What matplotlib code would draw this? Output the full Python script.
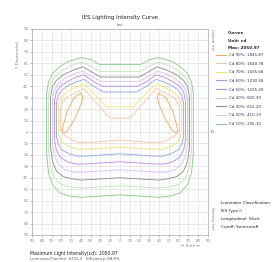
import numpy as np
import matplotlib
matplotlib.use('Agg')
import matplotlib.pyplot as plt
from matplotlib.lines import Line2D

# contour outlines, outer (10%) to inner (90%), in degrees
c10_x = [-75, -73, -69, -62, -52, -39, -29, -21, 21, 29, 39, 52, 62, 69, 73, 75,
         75, 73, 69, 62, 52, 40, 0, -40, -52, -62, -69, -73, -75, -75]
c10_y = [34, 44, 51, 57, 62, 65, 63, 59, 59, 63, 65, 62, 57, 51, 44, 34,
         -20, -36, -46, -53, -56, -57, -55, -57, -56, -53, -46, -36, -20, 34]
c20_x = [-73, -71, -67, -60, -50, -39, -29, -21, 21, 29, 39, 50, 60, 67, 71, 73,
         73, 71, 67, 60, 50, 40, 0, -40, -50, -60, -67, -71, -73, -73]
c20_y = [33, 42, 48, 53, 58, 61, 57, 53, 53, 57, 61, 58, 53, 48, 42, 33,
         -17, -31, -40, -46, -48, -49, -47, -49, -48, -46, -40, -31, -17, 33]
c30_x = [-71, -69, -65, -58, -48, -38, -28, -20, 20, 28, 38, 48, 58, 65, 69, 71,
         71, 69, 65, 58, 48, 40, 0, -40, -48, -58, -65, -69, -71, -71]
c30_y = [31, 40, 45, 50, 54, 57, 52, 48, 48, 52, 57, 54, 50, 45, 40, 31,
         -14, -26, -34, -39, -41, -42, -40, -42, -41, -39, -34, -26, -14, 31]
c40_x = [-69, -67, -63, -56, -47, -38, -28, -19, 19, 28, 38, 47, 56, 63, 67, 69,
         69, 67, 63, 56, 47, 38, 0, -38, -47, -56, -63, -67, -69, -69]
c40_y = [29, 37, 42, 47, 51, 53, 48, 44, 44, 48, 53, 51, 47, 42, 37, 29,
         -10, -21, -28, -33, -35, -35, -33, -35, -35, -33, -28, -21, -10, 29]
c50_x = [-67, -65, -61, -54, -45, -37, -27, -18, 18, 27, 37, 45, 54, 61, 65, 67,
         67, 65, 61, 54, 45, 36, 0, -36, -45, -54, -61, -65, -67, -67]
c50_y = [27, 35, 40, 44, 48, 50, 44, 40, 40, 44, 50, 48, 44, 40, 35, 27,
         -7, -16, -22, -26, -28, -28, -26, -28, -28, -26, -22, -16, -7, 27]
c60_x = [-65, -63, -59, -52, -44, -37, -27, -17, 17, 27, 37, 44, 52, 59, 63, 65,
         65, 63, 59, 52, 44, 34, 0, -34, -44, -52, -59, -63, -65, -65]
c60_y = [25, 32, 37, 41, 44, 46, 40, 35, 35, 40, 46, 44, 41, 37, 32, 25,
         -4, -11, -16, -19, -21, -21, -19, -21, -21, -19, -16, -11, -4, 25]
c70_x = [-63, -61, -57, -51, -43, -37, -28, -14, 14, 28, 37, 43, 51, 57, 61, 63,
         63, 61, 57, 51, 43, 30, 0, -30, -43, -51, -57, -61, -63, -63]
c70_y = [23, 29, 33, 37, 40, 42, 35, 22, 22, 35, 42, 40, 37, 33, 29, 23,
         -1, -6, -10, -13, -15, -15, -13, -15, -15, -13, -10, -6, -1, 23]
c80_x = [-61, -59, -55, -49, -42, -37, -29, -10, 10, 29, 37, 42, 49, 55, 59, 61,
         61, 59, 55, 49, 42, 28, 0, -28, -42, -49, -55, -59, -61, -61]
c80_y = [20, 26, 30, 33, 36, 38, 30, 12, 12, 30, 38, 36, 33, 30, 26, 20,
         2, -1, -4, -7, -9, -9, -7, -9, -9, -7, -4, -1, 2, 20]
# 90% is two separate lobes
c90l_x = [-40, -38, -40, -46, -53, -57, -59, -58, -54, -47, -40]
c90l_y = [34, 30, 24, 12, 2, -1, 1, 6, 18, 30, 34]
c90r_x = [40, 38, 40, 46, 53, 57, 59, 58, 54, 47, 40]
c90r_y = [34, 30, 24, 12, 2, -1, 1, 6, 18, 30, 34]

percent = ['90%', '80%', '70%', '60%', '50%', '40%', '30%', '20%', '10%']
cd_vals = ['1845.87', '1640.78', '1435.68', '1230.58', '1025.49', '820.39', '615.29', '410.19', '205.10']
colors = ['#f0a860', '#f7c4a8', '#eee870', '#8fa6e8', '#b98ae6', '#d2c0f2', '#8c8c8c', '#bfe6b4', '#86cc86']
ticks = list(range(-90, 91, 10))
tick_labels = [str(abs(t)) for t in ticks]

fig = plt.figure(figsize=(2.73, 2.62), dpi=100)
ax = fig.add_axes([32 / 273, 1 - 235 / 262, 176 / 273, 206 / 262])

outlines = [(c90l_x, c90l_y), (c80_x, c80_y), (c70_x, c70_y), (c60_x, c60_y), (c50_x, c50_y),
            (c40_x, c40_y), (c30_x, c30_y), (c20_x, c20_y), (c10_x, c10_y)]
for i, (xs, ys) in enumerate(outlines):
    ax.plot(xs, ys, color=colors[i], lw=0.6)
ax.plot(c90r_x, c90r_y, color=colors[0], lw=0.6)

ax.set_xlim(-90, 90)
ax.set_ylim(-90, 90)
ax.set_xticks(ticks)
ax.set_yticks(ticks)
ax.set_xticklabels(tick_labels)
ax.set_yticklabels(tick_labels)
ax.set_xticks(np.arange(-85, 90, 10), minor=True)
ax.set_yticks(np.arange(-85, 90, 10), minor=True)
ax.grid(True, which='major', color='#d8d8d8', lw=0.4)
ax.grid(True, which='minor', color='#eeeeee', lw=0.3)
ax.tick_params(labelsize=2.8, colors='#888888', length=1.2, width=0.4, pad=1.5)
ax.tick_params(which='minor', length=0)
for s in ax.spines.values():
    s.set_color('#aaaaaa')
    s.set_linewidth(0.5)

fig.text(120 / 273, 1 - 17 / 262, 'IES Lighting Intensity Curve', ha='center', va='center',
         fontsize=4, color='#222222')
fig.text(120 / 273, 1 - 25 / 262, '(m)', ha='center', va='center', fontsize=2.8, color='#555555')
fig.text(18 / 273, 1 - 54 / 262, 'Y Distance(m)', rotation=90, ha='center', va='center',
         fontsize=2.8, color='#777777')
fig.text(212 / 273, 1 - 40 / 262, 'Lateral (m)', rotation=270, ha='center', va='center',
         fontsize=2.8, color='#777777')
fig.text(212 / 273, 1 - 218 / 262, 'Vertical (m)', rotation=270, ha='center', va='center',
         fontsize=2.8, color='#777777')
fig.text(212 / 273, 1 - 132 / 262, '0', ha='center', va='center', fontsize=3.2, color='#444444')
fig.text(190 / 273, 1 - 246 / 262, '\u2190 H(m) \u2192', ha='center', va='center',
         fontsize=2.8, color='#777777')

fig.text(30 / 273, 1 - 253 / 262, 'Maximum Light Intensity(cd): 2050.97', ha='left', va='center',
         fontsize=3.3, color='#222222')
fig.text(30 / 273, 1 - 259 / 262, 'Luminous Flux(lm): 6215.3   Efficiency: 88.6%', ha='left',
         va='center', fontsize=2.8, color='#555555')

# legend block
heads = ['Curves', 'Unit: cd', 'Max: 2050.97']
for i, h in enumerate(heads):
    fig.text(228 / 273, 1 - (33 + i * 7.5) / 262, h, ha='left', va='center', fontsize=3.0,
             color='#222222', fontweight='bold')
handles = [Line2D([], [], color=colors[i], lw=0.8) for i in range(len(percent))]
labels = ['Cd %s: %s' % (percent[i], cd_vals[i]) for i in range(len(percent))]
fig.legend(handles, labels, loc='upper left', bbox_to_anchor=(216 / 273, 1 - 53 / 262),
           frameon=False, fontsize=2.9, handlelength=2.6, handletextpad=0.6,
           labelspacing=1.15, borderaxespad=0, borderpad=0, labelcolor='#333355')

info = ['Luminaire Classification:', 'IES Type II', 'Longitudinal: Short', 'Cutoff: Semicutoff']
for i, t in enumerate(info):
    fig.text(221 / 273, 1 - (203 + i * 8) / 262, t, ha='left', va='center', fontsize=3.0,
             color='#222222')

fig.savefig('out.png', dpi=100)
